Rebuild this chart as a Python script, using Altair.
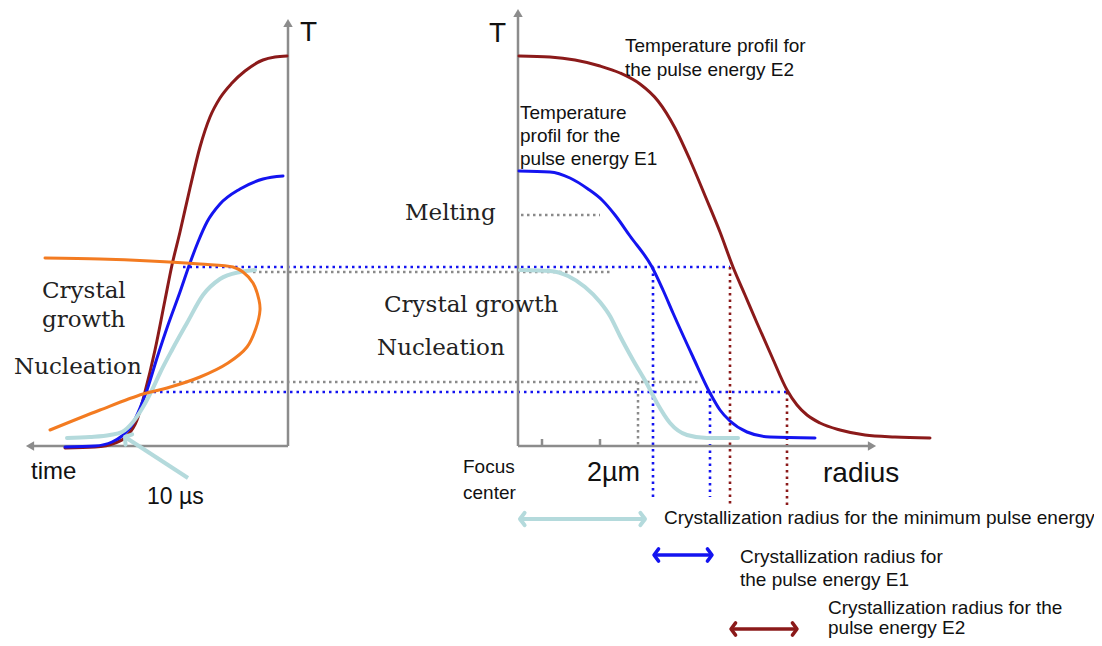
import altair as alt
import pandas as pd

W, H = 1086, 630
X0, X1, Y0, Y1 = 8, 1094, 8, 638

RED = "#8b1a1a"
BLUE = "#1414f0"
ORANGE = "#f37b21"
LBLUE = "#b4dadc"
GRAY = "#8c8c8c"
DGRAY = "#8a8a8a"

# ---- time panel (left) curves ----
red_left_x = [65, 95, 115, 127, 137, 145, 155, 165, 172, 180, 190, 200, 210, 220, 232, 245, 263, 275, 287]
red_left_y = [448, 447, 443, 436, 420, 392, 350, 300, 265, 232, 188, 147, 117, 98, 83, 71, 60, 57, 56]
blue_left_x = [65, 95, 112, 122, 132, 140, 147, 157, 168, 180, 190, 198, 207, 220, 240, 263, 283]
blue_left_y = [447, 446, 442, 436, 425, 408, 390, 358, 325, 292, 263, 242, 222, 204, 189, 179, 176]
lblue_left_x = [67, 90, 110, 122, 133, 143, 152, 160, 172, 187, 203, 220, 240, 255]
lblue_left_y = [438, 437, 435, 432, 422, 407, 390, 373, 350, 323, 295, 279, 272, 270]
orange_x = [45, 100, 150, 200, 233, 243, 253, 259, 260, 256, 247, 228, 200, 167, 143, 100, 50]
orange_y = [258, 259, 261, 264, 267, 272, 283, 300, 310, 328, 347, 363, 377, 388, 394, 410, 430]

# ---- radius panel (right) curves ----
red_right_x = [519, 550, 575, 600, 620, 640, 658, 675, 690, 706, 720, 733, 745, 757, 772, 787, 797, 807, 820, 840, 865, 895, 930]
red_right_y = [56, 57, 60, 66, 73, 84, 101, 128, 160, 198, 232, 267, 295, 323, 357, 390, 405, 415, 423, 430, 435, 437, 438]
blue_right_x = [519, 550, 570, 588, 602, 615, 630, 652, 663, 673, 693, 710, 720, 730, 747, 770, 815]
blue_right_y = [171, 172, 178, 189, 200, 215, 236, 267, 290, 313, 357, 393, 410, 421, 432, 437, 438]
lblue_right_x = [520, 550, 568, 585, 600, 610, 620, 633, 647, 657, 670, 687, 707, 738]
lblue_right_y = [270, 271, 276, 287, 302, 316, 336, 360, 384, 403, 423, 435, 438, 438]

# ---- dotted guide lines (x1, y1, x2, y2) ----
blue_dot_x1 = [183, 147, 653, 710]
blue_dot_y1 = [267, 392, 267, 392]
blue_dot_x2 = [730, 787, 653, 710]
blue_dot_y2 = [267, 392, 497, 497]
gray_dot_x1 = [253, 173, 638, 521]
gray_dot_y1 = [272, 382, 382, 215]
gray_dot_x2 = [612, 700, 638, 600]
gray_dot_y2 = [272, 382, 446, 215]
red_dot_x1 = [730, 787]
red_dot_y1 = [267, 392]
red_dot_x2 = [730, 787]
red_dot_y2 = [507, 507]

# ---- axes ----
axis_x1 = [288, 288, 518, 518, 542, 600]
axis_y1 = [446, 446, 446, 446, 439, 439]
axis_x2 = [288, 30, 518, 872, 542, 600]
axis_y2 = [24, 446, 14, 446, 446, 446]
axhead_x = [288, 30, 518, 872]
axhead_y = [23, 446, 13, 446]
axhead_angle = [0, 270, 0, 90]

# ---- double arrows (radius legend) ----
lb_arrow = ([520, 645], [519, 519])
b_arrow = ([654, 712], [555, 555])
r_arrow = ([731, 797], [629, 629])
pointer_x = [188, 125]
pointer_y = [478, 437]

# ---- texts ----
serif_labels = ["Crystal", "growth", "Nucleation", "Melting", "Crystal growth", "Nucleation"]
serif_x = [42, 42, 14, 405, 384, 377]
serif_y = [291, 320, 367, 213, 305, 348]

big_labels = ["T", "T"]
big_x = [300, 489]
big_y = [33, 34]

mid_labels = ["time", "10 µs", "2µm", "radius"]
mid_x = [31, 147, 587, 823]
mid_y = [472, 497, 473, 474]
mid_size = [24, 23, 27, 28]

small_labels = ["Focus", "center",
                "Temperature profil for", "the pulse energy E2",
                "Temperature", "profil for the", "pulse energy E1",
                "Crystallization radius for the minimum pulse energy",
                "Crystallization radius for", "the pulse energy E1",
                "Crystallization radius for the", "pulse energy E2"]
small_x = [463, 463, 625, 625, 520, 520, 520, 664, 740, 740, 828, 828]
small_y = [467, 493, 46, 70, 113, 136, 159, 518, 557, 580, 608, 628]

xs = alt.Scale(domain=[X0, X1])
ys = alt.Scale(domain=[Y0, Y1], reverse=True)
XE = alt.X("x:Q", scale=xs, axis=None)
YE = alt.Y("y:Q", scale=ys, axis=None)


def curve(xv, yv, color, width, interp="monotone"):
    df = pd.DataFrame({"x": xv, "y": yv, "i": list(range(len(xv)))})
    return alt.Chart(df).mark_line(color=color, strokeWidth=width, interpolate=interp,
                                   strokeCap="round", strokeJoin="round").encode(
        x=XE, y=YE, order="i:Q")


def segs(x1, y1, x2, y2, color, width, dash=None):
    df = pd.DataFrame({"x": x1, "y": y1, "x2": x2, "y2": y2})
    kw = dict(color=color, strokeWidth=width)
    if dash is not None:
        kw["strokeDash"] = dash
    return alt.Chart(df).mark_rule(**kw).encode(x=XE, y=YE, x2="x2:Q", y2="y2:Q")


def heads(xv, yv, angles, color, shape, size, filled, width=1):
    df = pd.DataFrame({"x": xv, "y": yv, "a": angles})
    return alt.Chart(df).mark_point(shape=shape, size=size, filled=filled, color=color,
                                    opacity=1, strokeWidth=width, strokeCap="round",
                                    strokeJoin="round").encode(
        x=XE, y=YE, angle=alt.Angle("a:Q", scale=None))


CHEV = "M-0.75,-1L0,0L-0.75,1"


def dbl_arrow(xy, color, width):
    xv, yv = xy
    return [segs([xv[0]], [yv[0]], [xv[1]], [yv[1]], color, width),
            heads(xv, yv, [180, 0], color, CHEV, 150, False, width)]


def texts(xv, yv, labels, size, font, color="#111111", size_field=None):
    df = pd.DataFrame({"x": xv, "y": yv, "t": labels})
    if size_field is not None:
        df["s"] = size_field
        return alt.Chart(df).mark_text(align="left", baseline="middle", font=font, color=color).encode(
            x=XE, y=YE, text="t:N", size=alt.Size("s:Q", scale=None, legend=None))
    return alt.Chart(df).mark_text(align="left", baseline="middle", font=font, fontSize=size,
                                   color=color).encode(x=XE, y=YE, text="t:N")


layers = [
    segs(gray_dot_x1, gray_dot_y1, gray_dot_x2, gray_dot_y2, DGRAY, 2.5, [2.5, 3.5]),
    segs(blue_dot_x1, blue_dot_y1, blue_dot_x2, blue_dot_y2, BLUE, 2.6, [2.5, 4]),
    segs(red_dot_x1, red_dot_y1, red_dot_x2, red_dot_y2, RED, 2.6, [2.5, 4]),
    segs(axis_x1, axis_y1, axis_x2, axis_y2, GRAY, 2.5),
    heads(axhead_x, axhead_y, axhead_angle, GRAY, "triangle-up", 90, True),
    curve(red_left_x, red_left_y, RED, 3),
    curve(blue_left_x, blue_left_y, BLUE, 3),
    curve(lblue_left_x, lblue_left_y, LBLUE, 4),
    curve(orange_x, orange_y, ORANGE, 3, "catmull-rom"),
    curve(red_right_x, red_right_y, RED, 3),
    curve(blue_right_x, blue_right_y, BLUE, 3),
    curve(lblue_right_x, lblue_right_y, LBLUE, 4),
    segs([pointer_x[0]], [pointer_y[0]], [pointer_x[1]], [pointer_y[1]], LBLUE, 4),
    heads([pointer_x[1]], [pointer_y[1]], [213], LBLUE, CHEV, 150, False, 4),
]
layers += dbl_arrow(lb_arrow, LBLUE, 4)
layers += dbl_arrow(b_arrow, BLUE, 3.5)
layers += dbl_arrow(r_arrow, RED, 3.5)
layers += [
    texts(serif_x, serif_y, serif_labels, 23, "DejaVu Serif", "#222222"),
    texts(big_x, big_y, big_labels, 28, "Liberation Sans"),
    texts(mid_x, mid_y, mid_labels, 24, "Liberation Sans", size_field=mid_size),
    texts(small_x, small_y, small_labels, 19, "Liberation Sans"),
]

chart = alt.layer(*layers).properties(
    width=W, height=H, padding=0, autosize="none", background="white"
).configure_view(strokeWidth=0)

chart.save("out.html", embed_options={"renderer": "svg", "actions": False})
